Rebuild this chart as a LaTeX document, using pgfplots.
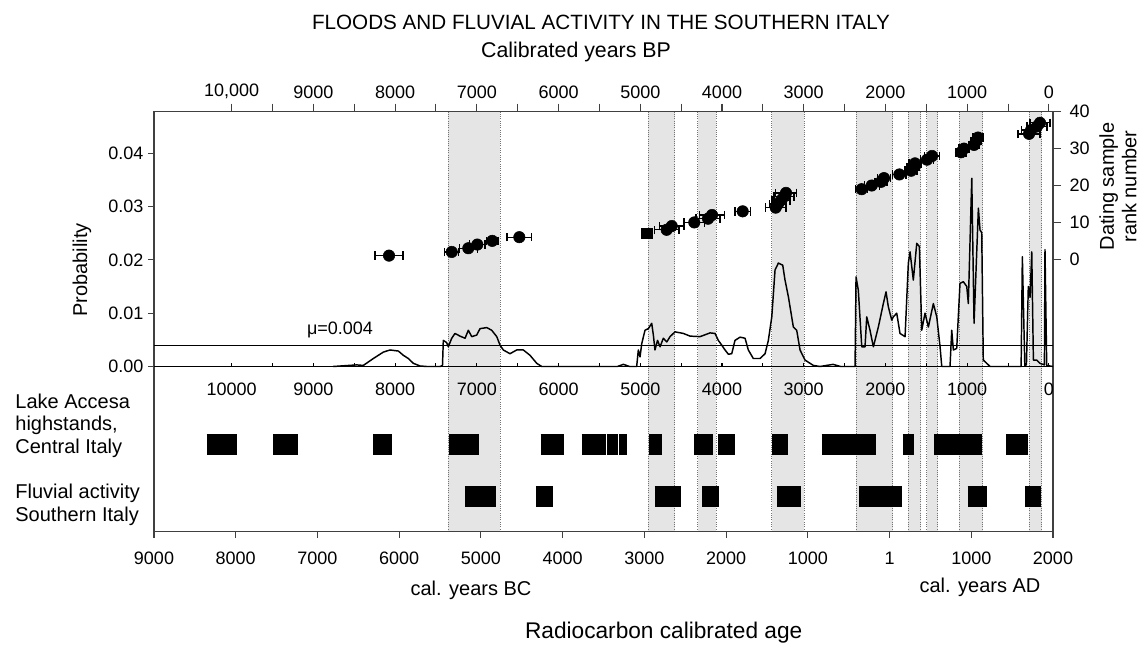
\documentclass[border=0pt]{standalone}
\usepackage{fontspec}
\setmainfont{Liberation Sans}
\usepackage{pgfplots}
\pgfplotsset{compat=1.18}
\definecolor{band}{gray}{0.9}
\definecolor{frm}{gray}{0.25}
\definecolor{dotc}{gray}{0.45}
\newcommand{\tfont}{\fontsize{13.5}{16}\selectfont}
\newcommand{\lfont}{\fontsize{15}{17}\selectfont}
\begin{document}
\begin{tikzpicture}[x=0.75pt,y=0.75pt]
\useasboundingbox (-154,-112.3) rectangle (990,531.7);
% ---------- main frame axis: bands, lower panel, left and bottom scales
\begin{axis}[
  at={(0pt,0pt)}, anchor=south west, scale only axis,
  width=674.25pt, height=315pt,
  xmin=-9000, xmax=2000, ymin=-0.03098, ymax=0.04778,
  scaled x ticks=false, scaled y ticks=false,
  axis on top,
  axis line style={draw=frm, line width=1pt},
  xtick={-9000,-8000,-7000,-6000,-5000,-4000,-3000,-2000,-1000,0,1000,2000},
  xticklabels={9000,8000,7000,6000,5000,4000,3000,2000,1000,1,1000,2000},
  ytick={0,0.01,0.02,0.03,0.04},
  yticklabels={0.00,0.01,0.02,0.03,0.04},
  xtick pos=left, ytick pos=left,
  tick align=outside, major tick length=4.5pt,
  tick style={draw=frm, line width=0.8pt},
  tick label style={font=\tfont},
  xticklabel style={yshift=-7.5pt},
  clip=false, unbounded coords=jump,
]
\addplot[fill=band, draw=none] coordinates {(-5399,-0.03098) (-4766,-0.03098) (-4766,0.04778) (-5399,0.04778)} -- cycle;
\addplot[fill=band, draw=none] coordinates {(-2952,-0.03098) (-2629,-0.03098) (-2629,0.04778) (-2952,0.04778)} -- cycle;
\addplot[fill=band, draw=none] coordinates {(-2347,-0.03098) (-2123,-0.03098) (-2123,0.04778) (-2347,0.04778)} -- cycle;
\addplot[fill=band, draw=none] coordinates {(-1442,-0.03098) (-1047,-0.03098) (-1047,0.04778) (-1442,0.04778)} -- cycle;
\addplot[fill=band, draw=none] coordinates {(-410,-0.03098) (39,-0.03098) (39,0.04778) (-410,0.04778)} -- cycle;
\addplot[fill=band, draw=none] coordinates {(230,-0.03098) (381,-0.03098) (381,0.04778) (230,0.04778)} -- cycle;
\addplot[fill=band, draw=none] coordinates {(455,-0.03098) (589,-0.03098) (589,0.04778) (455,0.04778)} -- cycle;
\addplot[fill=band, draw=none] coordinates {(854,-0.03098) (1140,-0.03098) (1140,0.04778) (854,0.04778)} -- cycle;
\addplot[fill=band, draw=none] coordinates {(1710,-0.03098) (1862,-0.03098) (1862,0.04778) (1710,0.04778)} -- cycle;
\addplot[dotc, densely dotted, line width=0.7pt] coordinates {
 (-5399,-0.03098) (-5399,0.04778) (-5399,nan)
 (-4766,-0.03098) (-4766,0.04778) (-4766,nan)
 (-2952,-0.03098) (-2952,0.04778) (-2952,nan)
 (-2629,-0.03098) (-2629,0.04778) (-2629,nan)
 (-2347,-0.03098) (-2347,0.04778) (-2347,nan)
 (-2123,-0.03098) (-2123,0.04778) (-2123,nan)
 (-1442,-0.03098) (-1442,0.04778) (-1442,nan)
 (-1047,-0.03098) (-1047,0.04778) (-1047,nan)
 (-410,-0.03098) (-410,0.04778) (-410,nan)
 (39,-0.03098) (39,0.04778) (39,nan)
 (230,-0.03098) (230,0.04778) (230,nan)
 (381,-0.03098) (381,0.04778) (381,nan)
 (455,-0.03098) (455,0.04778) (455,nan)
 (589,-0.03098) (589,0.04778) (589,nan)
 (854,-0.03098) (854,0.04778) (854,nan)
 (1140,-0.03098) (1140,0.04778) (1140,nan)
 (1710,-0.03098) (1710,0.04778) (1710,nan)
 (1862,-0.03098) (1862,0.04778)
};
% Lake Accesa highstands
\addplot[black, line width=15.75pt] coordinates {
 (-8355,-0.01463) (-7988,-0.01463) (-7988,nan)
 (-7540,-0.01463) (-7242,-0.01463) (-7242,nan)
 (-6317,-0.01463) (-6091,-0.01463) (-6091,nan)
 (-5390,-0.01463) (-5020,-0.01463) (-5020,nan)
 (-4268,-0.01463) (-3980,-0.01463) (-3980,nan)
 (-3767,-0.01463) (-3469,-0.01463) (-3469,nan)
 (-3461,-0.01463) (-3326,-0.01463) (-3326,nan)
 (-3310,-0.01463) (-3209,-0.01463) (-3209,nan)
 (-2943,-0.01463) (-2780,-0.01463) (-2780,nan)
 (-2389,-0.01463) (-2164,-0.01463) (-2164,nan)
 (-2095,-0.01463) (-1891,-0.01463) (-1891,nan)
 (-1442,-0.01463) (-1239,-0.01463) (-1239,nan)
 (-830,-0.01463) (-166,-0.01463) (-166,nan)
 (161,-0.01463) (299,-0.01463) (299,nan)
 (548,-0.01463) (1128,-0.01463) (1128,nan)
 (1425,-0.01463) (1691,-0.01463)
};
% Fluvial activity Southern Italy
\addplot[black, line width=15.5pt] coordinates {
 (-5195,-0.02434) (-4815,-0.02434) (-4815,nan)
 (-4326,-0.02434) (-4114,-0.02434) (-4114,nan)
 (-2873,-0.02434) (-2552,-0.02434) (-2552,nan)
 (-2291,-0.02434) (-2083,-0.02434) (-2083,nan)
 (-1381,-0.02434) (-1083,-0.02434) (-1083,nan)
 (-370,-0.02434) (149,-0.02434) (149,nan)
 (956,-0.02434) (1196,-0.02434) (1196,nan)
 (1658,-0.02434) (1853,-0.02434)
};
\end{axis}
% ---------- probability panel
\begin{axis}[
  at={(0pt,123.9pt)}, anchor=south west, scale only axis,
  width=674.25pt, height=191.1pt,
  xmin=-9000, xmax=2000, ymin=0, ymax=0.04778,
  scaled x ticks=false, scaled y ticks=false,
  axis x line*=bottom, axis y line=none,
  axis line style={-, draw=black, line width=0.9pt},
  xtick={-8050,-7050,-6050,-5050,-4050,-3050,-2050,-1050,-50,950,1950},
  xticklabels={10000,9000,8000,7000,6000,5000,4000,3000,2000,1000,0},
  minor xtick={-7550,-6550,-5550,-4550,-3550,-2550,-1550,-550,450,1450},
  tick align=inside, major tick length=3pt, minor tick length=2.5pt,
  tick style={draw=black, line width=0.8pt},
  tick label style={font=\tfont},
  xticklabel style={yshift=-8.5pt},
  clip=false,
]
\addplot[black, line width=0.8pt] coordinates {(-9000,0.004) (2000,0.004)};
\addplot[black, line width=1.1pt, line join=round] coordinates {
(-6810,0) (-6520,0.0003) (-6439,0.0002) (-6316,0.0015) (-6194,0.0027) (-6112,0.0031) (-6010,0.0029) (-5949,0.0021) (-5888,0.0015) (-5827,0.0006) (-5745,0.0001) (-5663,0) (-5500,0) (-5470,0.0002) (-5460,0.0049) (-5420,0.0045) (-5399,0.0037) (-5357,0.0053) (-5317,0.0062) (-5256,0.0057) (-5194,0.0053) (-5154,0.0068) (-5112,0.0056) (-5051,0.0059) (-5011,0.0071) (-4929,0.0073) (-4868,0.0068) (-4806,0.0056) (-4766,0.0040) (-4726,0.0031) (-4644,0.0024) (-4562,0.0031) (-4481,0.0031) (-4399,0.0021) (-4317,0.0006) (-4256,0) (-3330,0) (-3257,0.0004) (-3180,0) (-3094,0) (-3074,0.0031) (-3053,0.0018) (-3032,0.0043) (-2992,0.0068) (-2951,0.0071) (-2910,0.0081) (-2890,0.0059) (-2870,0.0031) (-2839,0.0049) (-2808,0.0037) (-2768,0.0053) (-2726,0.0046) (-2686,0.0056) (-2625,0.0065) (-2523,0.0062) (-2441,0.0057) (-2319,0.0056) (-2196,0.0063) (-2135,0.0062) (-2095,0.0049) (-2053,0.0040) (-2013,0.0031) (-1972,0.0023) (-1931,0.0024) (-1891,0.0049) (-1829,0.0055) (-1768,0.0053) (-1728,0.0031) (-1667,0.0015) (-1585,0.0015) (-1523,0.0024) (-1483,0.0049) (-1441,0.0093) (-1401,0.0181) (-1360,0.0194) (-1307,0.0190) (-1279,0.0162) (-1238,0.0131) (-1177,0.0074) (-1136,0.0068) (-1095,0.0031) (-1034,0.0012) (-932,0.0002) (-851,0) (-691,0.0004) (-600,0) (-422,0) (-410,0.0168) (-382,0.0143) (-340,0.0037) (-300,0.0037) (-279,0.0093) (-239,0.0068) (-198,0.0037) (-137,0.0074) (-76,0.0118) (-43,0.0140) (-15,0.0112) (27,0.0087) (46,0.0093) (88,0.0100) (128,0.0062) (190,0.0056) (230,0.0194) (251,0.0215) (291,0.0162) (333,0.0231) (365,0.0225) (394,0.0068) (434,0.0100) (475,0.0074) (536,0.0118) (578,0.0093) (618,0.0037) (639,0) (740,0) (761,0.0068) (781,0.0031) (822,0.0034) (862,0.0156) (903,0.0159) (945,0.0150) (964,0.0118) (1006,0.0353) (1034,0.0081) (1087,0.0297) (1107,0.0256) (1128,0.0251) (1147,0.0012) (1189,0.0006) (1230,0) (1610,0) (1625,0.0206) (1655,0.0002) (1675,0.0003) (1698,0.0150) (1720,0.0130) (1740,0.0215) (1760,0.0012) (1801,0.0012) (1841,0.0006) (1895,0.0003) (1902,0.0219) (1923,0.0002) (2000,0)
};
\node[font=\fontsize{13.5}{16}\selectfont] at (axis cs:-6724,0.0068) {μ=0.004};
\end{axis}
% ---------- rank axis: dated samples, right and top scales
\begin{axis}[
  at={(0pt,0pt)}, anchor=south west, scale only axis,
  width=674.25pt, height=315pt,
  xmin=-9000, xmax=2000, ymin=-73.82, ymax=40,
  scaled x ticks=false, scaled y ticks=false,
  axis line style={draw=none},
  xtick={-8050,-7050,-6050,-5050,-4050,-3050,-2050,-1050,-50,950,1950},
  xticklabels={{10,000},9000,8000,7000,6000,5000,4000,3000,2000,1000,0},
  minor xtick={-7550,-6550,-5550,-4550,-3550,-2550,-1550,-550,450,1450},
  ytick={0,10,20,30,40},
  yticklabels={0,10,20,30,40},
  xtick pos=right, ytick pos=right,
  xticklabel pos=right, yticklabel pos=right,
  tick align=outside, major tick length=6pt, minor tick length=6pt,
  tick style={draw=frm, line width=0.8pt},
  tick label style={font=\tfont},
  yticklabel style={xshift=3pt},
  clip=false,
]
\addplot[only marks, mark=*, mark size=4.3pt, black,
  error bars/.cd, x dir=both, x explicit,
  error bar style={line width=1pt, black},
  error mark options={rotate=90, mark size=3.2pt, line width=1pt, black}]
 table[x=x, y=y, x error=e] {
x y e
-6124 1 172
-5357 2 86
-5154 3 110
-5044 4 92
-4861 5 70
-4530 6 150
-2727 8 150
-2665 9 150
-2389 10 128
-2221 11 146
-2172 12 153
-1797 13 96
-1393 14 128
-1365 15 104
-1328 16 110
-1291 17 122
-1267 18 128
-341 19 73
-218 20 92
-104 21 73
-68 22 80
120 23 80
263 24 73
287 25 73
312 26 73
458 27 80
520 28 92
874 29 61
911 30 61
1034 31 61
1058 32 61
1082 33 61
1707 34 135
1731 35 120
1804 36 122
1841 37 122
};
\addplot[only marks, mark=square*, mark size=3.8pt, black,
  error bars/.cd, x dir=both, x explicit,
  error bar style={line width=1pt, black},
  error mark options={rotate=90, mark size=3.2pt, line width=1pt, black}]
 table[x=x, y=y, x error=e] {
x y e
-2971 7 60
};
\end{axis}
% ---------- texts
\node[font=\fontsize{15.5}{18}\selectfont] at (447,509.7) {FLOODS AND FLUVIAL ACTIVITY IN THE SOUTHERN ITALY};
\node[font=\fontsize{16}{18}\selectfont] at (422,479.7) {Calibrated years BP};
\node[font=\lfont, rotate=90] at (-72,261.7) {Probability};
\node[font=\lfont, rotate=90, align=center, anchor=west, inner sep=0pt] at (964,281) {Dating sample\\rank number};
\node[font=\lfont, align=left, anchor=west] at (-143.3,106.2) {Lake Accesa\\highstands,\\Central Italy};
\node[font=\lfont, align=left, anchor=west] at (-143.3,26.7) {Fluvial activity\\Southern Italy};
\node[font=\lfont] at (317,-58.3) {cal. years BC};
\node[font=\lfont] at (826,-55.3) {cal. years AD};
\node[font=\fontsize{17}{20}\selectfont] at (509.7,-101.3) {Radiocarbon calibrated age};
\end{tikzpicture}
\end{document}
